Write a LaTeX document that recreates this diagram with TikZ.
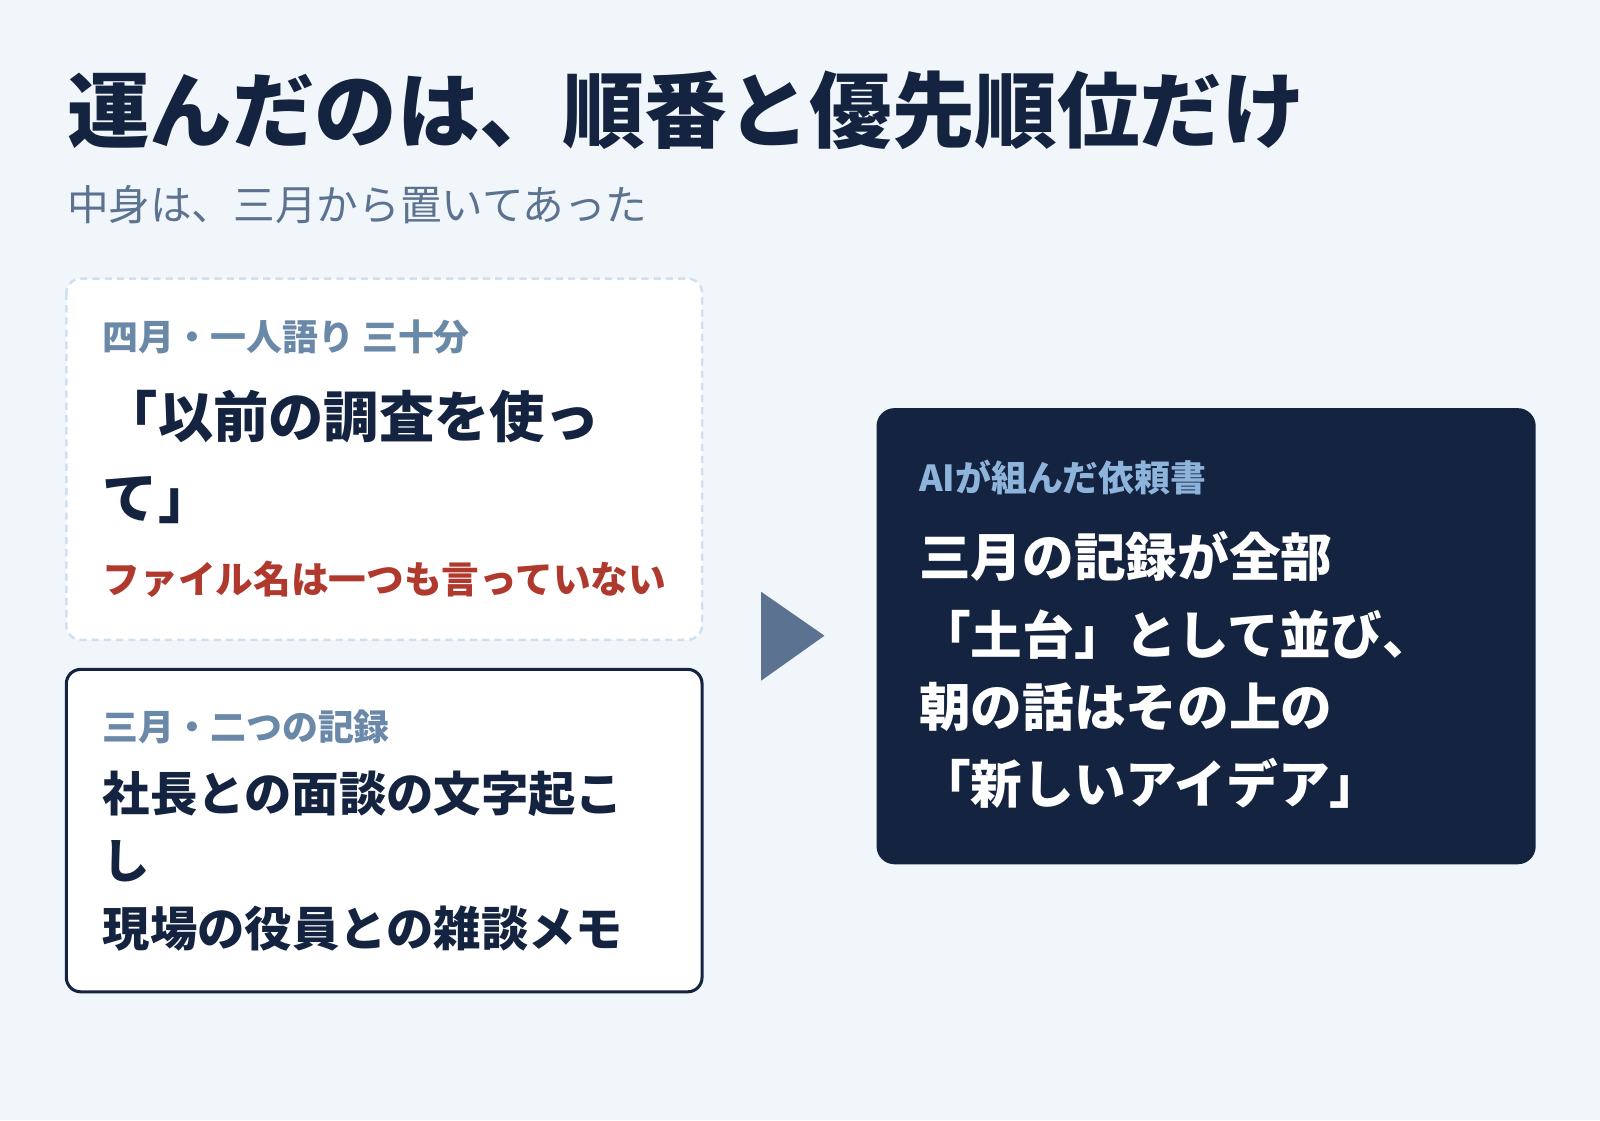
\documentclass[tikz,border=0pt]{standalone}
\usepackage{fontspec}
\setmainfont{Noto Sans CJK JP}
\newfontfamily\heavy{Noto Sans CJK JP Black}
\definecolor{bgcol}{HTML}{F1F6FB}
\definecolor{ink}{HTML}{14233F}
\definecolor{subcol}{HTML}{5B7391}
\definecolor{labcol}{HTML}{6A88A8}
\definecolor{warncol}{HTML}{B0392E}
\definecolor{dashcol}{HTML}{CFE0F0}
\definecolor{reqlab}{HTML}{8FB4DC}
\tikzset{
  txt/.style={anchor=west,inner sep=0,font=\fontsize{#1}{#1}\selectfont\bfseries,
    text height=.88*#1 pt,text depth=.12*#1 pt},
  lab/.style={txt=10}
}
\begin{document}
\begin{tikzpicture}[x=.01cm,y=-.01cm]
  \fill[bgcol] (0,0) rectangle (1568,1098);
  \useasboundingbox (0,0) rectangle (1568,1098);
  % heading
  \node[txt=23,ink,font=\fontsize{23}{23}\selectfont\heavy] (title) at (65,108) {運んだのは、順番と優先順位だけ};
  \node[txt=11.6,subcol,font=\fontsize{11.6}{11.6}\selectfont] (subtitle) at (65,201) {中身は、三月から置いてあった};
  % april box
  \draw[dashcol,fill=white,line width=.7pt,dash pattern=on 2pt off 1.4pt,rounded corners=4pt] (65,273) rectangle (688,627);
  \node[lab,labcol] (aprillab) at (100,330) {四月・一人語り 三十分};
  \node[txt=15.4,ink] (aprilq1) at (100,408) {「以前の調査を使っ};
  \node[txt=15.4,ink] (aprilq2) at (100,488) {て」};
  \node[txt=10.5,warncol] (aprilwarn) at (100,568) {ファイル名は一つも言っていない};
  % march box
  \draw[ink,fill=white,line width=.85pt,rounded corners=4pt] (65,656) rectangle (688,972);
  \node[lab,labcol] (marchlab) at (100,712) {三月・二つの記録};
  \node[txt=13.2,ink] (march1) at (100,778) {社長との面談の文字起こ};
  \node[txt=13.2,ink] (march2) at (100,843) {し};
  \node[txt=13.2,ink] (march3) at (100,910) {現場の役員との雑談メモ};
  % arrow
  \fill[subcol] (746,580) -- (808,623) -- (746,667) -- cycle;
  % request box
  \fill[ink,rounded corners=5pt] (859,400) rectangle (1505,847);
  \node[lab,reqlab] (reqlab) at (900,468) {AIが組んだ依頼書};
  \node[txt=14.4,white] (req1) at (900,546) {三月の記録が全部};
  \node[txt=14.4,white] (req2) at (900,622) {「土台」として並び、};
  \node[txt=14.4,white] (req3) at (900,693) {朝の話はその上の};
  \node[txt=14.4,white] (req4) at (900,768) {「新しいアイデア」};
\end{tikzpicture}
\end{document}
